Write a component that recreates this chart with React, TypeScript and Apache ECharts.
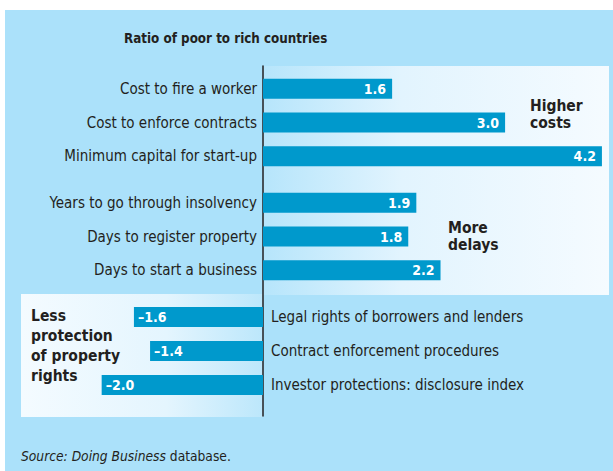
import React, { useEffect, useRef } from "react";
import * as echarts from "echarts";

const costCategories = [
  "Cost to fire a worker",
  "Cost to enforce contracts",
  "Minimum capital for start-up",
];
const costValues = [1.6, 3.0, 4.2];

const delayCategories = [
  "Years to go through insolvency",
  "Days to register property",
  "Days to start a business",
];
const delayValues = [1.9, 1.8, 2.2];

const protectionCategories = [
  "Legal rights of borrowers and lenders",
  "Contract enforcement procedures",
  "Investor protections: disclosure index",
];
const protectionValues = [-1.6, -1.4, -2.0];

const posMax = 4.3;
const negMin = -3;

const FONT = "'Liberation Sans Narrow', 'Arial Narrow', 'DejaVu Sans Condensed', sans-serif";
const TEXT = "#231f20";
const BAR = "#0099cc";

function fmt(v: number) {
  return v < 0 ? "\u2013" + Math.abs(v).toFixed(1) : v.toFixed(1);
}

export default function App() {
  const ref = useRef<HTMLDivElement>(null);

  useEffect(() => {
    if (!ref.current) return;
    const chart = echarts.init(ref.current, null, { renderer: "svg" });

    const base = { containLabel: false, outerBoundsMode: "none" };
    const grids = [
      { ...base, left: 263, right: 3, top: 72, height: 101 },
      { ...base, left: 263, right: 3, top: 186, height: 101 },
      { ...base, left: 21, right: 350, top: 300, height: 102 },
      { ...base, left: 263, right: 3, top: 66, height: 350 },
    ];

    const xAxes = [
      { type: "value", gridIndex: 0, min: 0, max: posMax, show: false },
      { type: "value", gridIndex: 1, min: 0, max: posMax, show: false },
      { type: "value", gridIndex: 2, min: negMin, max: 0, show: false },
      { type: "value", gridIndex: 3, min: 0, max: posMax, show: false },
    ];

    const catAxis = (i: number, data: string[], right: boolean) => ({
      type: "category",
      gridIndex: i,
      data,
      inverse: true,
      position: right ? "right" : "left",
      axisLine: { show: false, onZero: false },
      axisTick: { show: false },
      axisLabel: {
        margin: right ? 8 : 6,
        color: TEXT,
        fontFamily: FONT,
        fontSize: 15,
      },
    });

    const yAxes = [
      catAxis(0, costCategories, false),
      catAxis(1, delayCategories, false),
      catAxis(2, protectionCategories, true),
      {
        type: "category",
        gridIndex: 3,
        data: [""],
        axisLine: { show: true, onZero: false, lineStyle: { color: TEXT, width: 1.5 } },
        axisTick: { show: false },
        axisLabel: { show: false },
      },
    ];

    const barSeries = (i: number, values: number[], neg: boolean) => ({
      type: "bar",
      xAxisIndex: i,
      yAxisIndex: i,
      data: values,
      barWidth: 20,
      itemStyle: { color: BAR },
      z: 5,
      label: {
        show: true,
        position: neg ? "insideLeft" : "insideRight",
        distance: neg ? 4 : 6,
        color: "#ffffff",
        fontFamily: FONT,
        fontWeight: "bold",
        fontSize: 14,
        formatter: (p: any) => fmt(p.value),
      },
    });

    const boldText = (x: number, y: number, text: string, lh: number) => ({
      type: "text",
      x,
      y,
      z: 10,
      style: {
        text,
        fill: TEXT,
        font: `bold 15.5px ${FONT}`,
        lineHeight: lh,
      },
    });

    chart.setOption({
      animation: false,
      backgroundColor: "#ffffff",
      title: {
        text: "Ratio of poor to rich countries",
        left: 124,
        top: 32,
        padding: 0,
        textStyle: {
          color: TEXT,
          fontFamily: FONT,
          fontWeight: "bold",
          fontSize: 13.3,
        },
      },
      grid: grids,
      xAxis: xAxes,
      yAxis: yAxes,
      series: [
        barSeries(0, costValues, false),
        barSeries(1, delayValues, false),
        barSeries(2, protectionValues, true),
      ],
      graphic: [
        {
          type: "rect",
          z: -20,
          shape: { x: 5, y: 10, width: 608, height: 461 },
          style: { fill: "#abe1fa" },
        },
        {
          type: "rect",
          z: -10,
          shape: { x: 263, y: 66, width: 346, height: 229 },
          style: {
            fill: new echarts.graphic.LinearGradient(0, 0, 1, 0, [
              { offset: 0, color: "#b6e5fb" },
              { offset: 0.4, color: "#e2f4fe" },
              { offset: 1, color: "#f5fbff" },
            ]),
          },
        },
        {
          type: "rect",
          z: -10,
          shape: { x: 21, y: 294, width: 242, height: 123 },
          style: {
            fill: new echarts.graphic.LinearGradient(0, 0, 1, 0, [
              { offset: 0, color: "#f4fbff" },
              { offset: 0.6, color: "#e4f5fe" },
              { offset: 1, color: "#bce7fb" },
            ]),
          },
        },
        boldText(530, 97, "Higher\ncosts", 17),
        boldText(448, 219, "More\ndelays", 17),
        boldText(31, 305.5, "Less\nprotection\nof property\nrights", 20),
        {
          type: "text",
          x: 21,
          y: 449,
          z: 10,
          style: {
            text: "{i|Source: Doing Business} database.",
            fill: TEXT,
            font: `13.7px ${FONT}`,
            rich: {
              i: { fontStyle: "italic", fontFamily: FONT, fontSize: 13.7, fill: TEXT },
            },
          },
        },
      ],
    });

    return () => chart.dispose();
  }, []);

  return (
    <div
      ref={ref}
      style={{ position: "fixed", left: 0, top: 0, width: 613, height: 471, background: "#fff" }}
    />
  );
}
